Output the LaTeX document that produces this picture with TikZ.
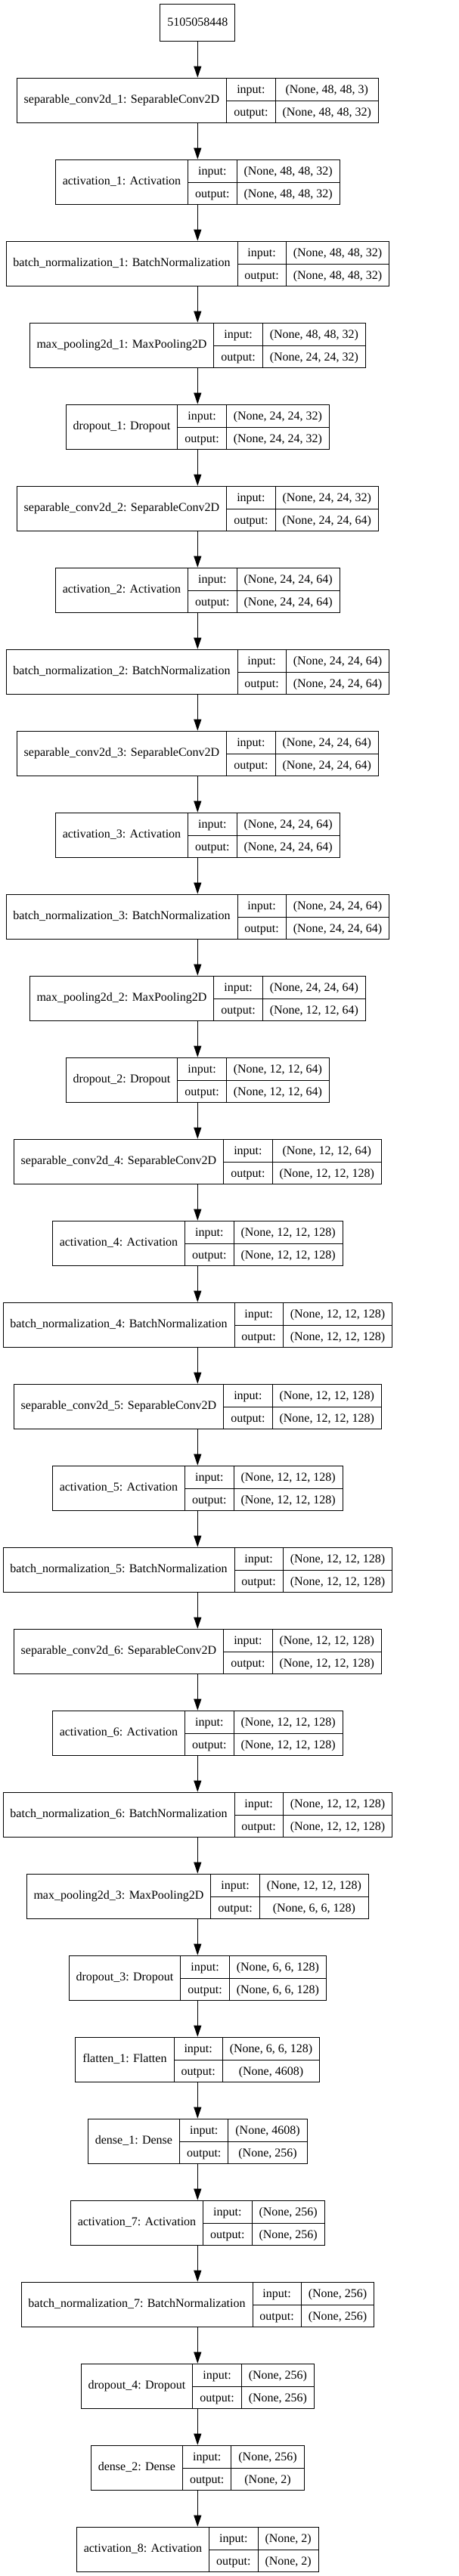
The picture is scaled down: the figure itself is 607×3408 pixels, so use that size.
\documentclass[tikz,border=0pt]{standalone}
\usepackage{fontspec}
\setmainfont{Liberation Serif}
\usepackage{multirow}
\usepackage{tikz}
\usetikzlibrary{arrows.meta, positioning}

\setlength{\tabcolsep}{9.5pt}
\setlength{\arrayrulewidth}{0.9pt}
\renewcommand{\arraystretch}{1.55}
\newcommand{\kl}[3]{\begin{tabular}{c|c|c}\multirow{2}{*}{#1} & input: & #2 \\ \cline{2-3} & output: & #3\end{tabular}}

\begin{document}
\begin{tikzpicture}[x=1pt, y=1pt,
    layer/.style={draw, line width=0.9pt, inner sep=0pt, font=\fontsize{16}{19}\selectfont},
    inbox/.style={draw, line width=0.9pt, inner xsep=9.5pt, minimum height=49pt, font=\fontsize{16}{19}\selectfont},
    arr/.style={-{Triangle[length=15pt, width=10pt]}, line width=0.9pt}]
        \useasboundingbox (0,0) rectangle (607,-3408);

        \node[inbox] (in) at (261.3, -29.5) {5105058448};
        \node[layer] (sc1) at (261.3, -132.5) {\kl{separable\_conv2d\_1: SeparableConv2D}{(None, 48, 48, 3)}{(None, 48, 48, 32)}};
        \node[layer] (act1) at (261.3, -240.5) {\kl{activation\_1: Activation}{(None, 48, 48, 32)}{(None, 48, 48, 32)}};
        \node[layer] (bn1) at (261.3, -348.5) {\kl{batch\_normalization\_1: BatchNormalization}{(None, 48, 48, 32)}{(None, 48, 48, 32)}};
        \node[layer] (mp1) at (261.3, -456.5) {\kl{max\_pooling2d\_1: MaxPooling2D}{(None, 48, 48, 32)}{(None, 24, 24, 32)}};
        \node[layer] (do1) at (261.3, -564.5) {\kl{dropout\_1: Dropout}{(None, 24, 24, 32)}{(None, 24, 24, 32)}};
        \node[layer] (sc2) at (261.3, -672.5) {\kl{separable\_conv2d\_2: SeparableConv2D}{(None, 24, 24, 32)}{(None, 24, 24, 64)}};
        \node[layer] (act2) at (261.3, -780.5) {\kl{activation\_2: Activation}{(None, 24, 24, 64)}{(None, 24, 24, 64)}};
        \node[layer] (bn2) at (261.3, -888.5) {\kl{batch\_normalization\_2: BatchNormalization}{(None, 24, 24, 64)}{(None, 24, 24, 64)}};
        \node[layer] (sc3) at (261.3, -996.5) {\kl{separable\_conv2d\_3: SeparableConv2D}{(None, 24, 24, 64)}{(None, 24, 24, 64)}};
        \node[layer] (act3) at (261.3, -1104.5) {\kl{activation\_3: Activation}{(None, 24, 24, 64)}{(None, 24, 24, 64)}};
        \node[layer] (bn3) at (261.3, -1212.5) {\kl{batch\_normalization\_3: BatchNormalization}{(None, 24, 24, 64)}{(None, 24, 24, 64)}};
        \node[layer] (mp2) at (261.3, -1320.5) {\kl{max\_pooling2d\_2: MaxPooling2D}{(None, 24, 24, 64)}{(None, 12, 12, 64)}};
        \node[layer] (do2) at (261.3, -1428.5) {\kl{dropout\_2: Dropout}{(None, 12, 12, 64)}{(None, 12, 12, 64)}};
        \node[layer] (sc4) at (261.3, -1536.5) {\kl{separable\_conv2d\_4: SeparableConv2D}{(None, 12, 12, 64)}{(None, 12, 12, 128)}};
        \node[layer] (act4) at (261.3, -1644.5) {\kl{activation\_4: Activation}{(None, 12, 12, 128)}{(None, 12, 12, 128)}};
        \node[layer] (bn4) at (261.3, -1752.5) {\kl{batch\_normalization\_4: BatchNormalization}{(None, 12, 12, 128)}{(None, 12, 12, 128)}};
        \node[layer] (sc5) at (261.3, -1860.5) {\kl{separable\_conv2d\_5: SeparableConv2D}{(None, 12, 12, 128)}{(None, 12, 12, 128)}};
        \node[layer] (act5) at (261.3, -1968.5) {\kl{activation\_5: Activation}{(None, 12, 12, 128)}{(None, 12, 12, 128)}};
        \node[layer] (bn5) at (261.3, -2076.5) {\kl{batch\_normalization\_5: BatchNormalization}{(None, 12, 12, 128)}{(None, 12, 12, 128)}};
        \node[layer] (sc6) at (261.3, -2184.5) {\kl{separable\_conv2d\_6: SeparableConv2D}{(None, 12, 12, 128)}{(None, 12, 12, 128)}};
        \node[layer] (act6) at (261.3, -2292.5) {\kl{activation\_6: Activation}{(None, 12, 12, 128)}{(None, 12, 12, 128)}};
        \node[layer] (bn6) at (261.3, -2400.5) {\kl{batch\_normalization\_6: BatchNormalization}{(None, 12, 12, 128)}{(None, 12, 12, 128)}};
        \node[layer] (mp3) at (261.3, -2508.5) {\kl{max\_pooling2d\_3: MaxPooling2D}{(None, 12, 12, 128)}{(None, 6, 6, 128)}};
        \node[layer] (do3) at (261.3, -2616.5) {\kl{dropout\_3: Dropout}{(None, 6, 6, 128)}{(None, 6, 6, 128)}};
        \node[layer] (fl1) at (261.3, -2724.5) {\kl{flatten\_1: Flatten}{(None, 6, 6, 128)}{(None, 4608)}};
        \node[layer] (de1) at (261.3, -2832.5) {\kl{dense\_1: Dense}{(None, 4608)}{(None, 256)}};
        \node[layer] (act7) at (261.3, -2940.5) {\kl{activation\_7: Activation}{(None, 256)}{(None, 256)}};
        \node[layer] (bn7) at (261.3, -3048.5) {\kl{batch\_normalization\_7: BatchNormalization}{(None, 256)}{(None, 256)}};
        \node[layer] (do4) at (261.3, -3156.5) {\kl{dropout\_4: Dropout}{(None, 256)}{(None, 256)}};
        \node[layer] (de2) at (261.3, -3264.5) {\kl{dense\_2: Dense}{(None, 256)}{(None, 2)}};
        \node[layer] (act8) at (261.3, -3372.5) {\kl{activation\_8: Activation}{(None, 2)}{(None, 2)}};

        \draw[arr] (in) edge (sc1)
            (sc1) edge (act1)
            (act1) edge (bn1)
            (bn1) edge (mp1)
            (mp1) edge (do1)
            (do1) edge (sc2)
            (sc2) edge (act2)
            (act2) edge (bn2)
            (bn2) edge (sc3)
            (sc3) edge (act3)
            (act3) edge (bn3)
            (bn3) edge (mp2)
            (mp2) edge (do2)
            (do2) edge (sc4)
            (sc4) edge (act4)
            (act4) edge (bn4)
            (bn4) edge (sc5)
            (sc5) edge (act5)
            (act5) edge (bn5)
            (bn5) edge (sc6)
            (sc6) edge (act6)
            (act6) edge (bn6)
            (bn6) edge (mp3)
            (mp3) edge (do3)
            (do3) edge (fl1)
            (fl1) edge (de1)
            (de1) edge (act7)
            (act7) edge (bn7)
            (bn7) edge (do4)
            (do4) edge (de2)
            (de2) edge (act8);
    \end{tikzpicture}
\end{document}
